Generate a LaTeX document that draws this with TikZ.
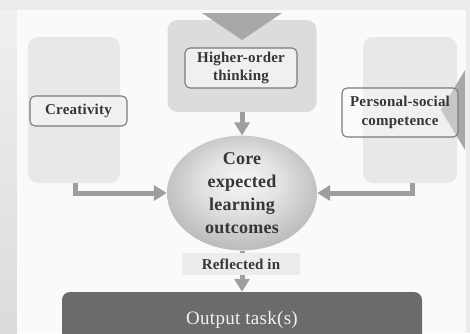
\documentclass[tikz,border=0pt]{standalone}
\usepackage{fontspec}
\setmainfont{Liberation Serif}[LetterSpace=1.5]
\usetikzlibrary{arrows.meta,shapes.geometric}

\definecolor{pagewhite}{HTML}{FAFAFA}
\definecolor{edgegray}{HTML}{ECECEC}
\definecolor{panelgray}{HTML}{E8E8E8}
\definecolor{trigray}{HTML}{A8A8A8}
\definecolor{boxline}{HTML}{7A7A7A}
\definecolor{boxfill}{HTML}{F0F0F0}
\definecolor{ink}{HTML}{363636}
\definecolor{flowgray}{HTML}{9E9E9E}
\definecolor{barfill}{HTML}{6B6B6B}
\definecolor{bartext}{HTML}{F2F2F2}
\definecolor{reflectfill}{HTML}{ECECEC}
\definecolor{coreA}{HTML}{F5F5F5}
\definecolor{coreB}{HTML}{E4E4E4}
\definecolor{coreC}{HTML}{A4A4A4}
\definecolor{coreD}{HTML}{6E6E6E}

% soft glow for the central ellipse, brightest slightly above its centre
\pgfdeclareradialshading{coreglow}{\pgfpoint{0bp}{6bp}}{%
  color(0bp)=(coreA); color(12bp)=(coreB); color(36bp)=(coreC); color(50bp)=(coreD)}

\begin{document}
\begin{tikzpicture}[x=1pt,y=-1pt,
  panel/.style={rectangle, rounded corners=10pt, fill=panelgray, draw=none, inner sep=0pt},
  labelbox/.style={rectangle, rounded corners=5pt, draw=boxline, line width=1.1pt,
    fill=boxfill, text=ink, align=center, inner sep=0pt,
    font=\bfseries\fontsize{15}{17.5}\selectfont},
  flow/.style={draw=flowgray, line width=5pt,
    -{Triangle[width=15pt,length=13pt]}},
  tri/.style={fill=trigray}]
\useasboundingbox (0,0) rectangle (470,333);
\clip (0,0) rectangle (470,333);

% backdrop
\fill[edgegray] (0,0) rectangle (470,333);
\shade[top color=gray!12, bottom color=gray!28] (0,10) rectangle (17,333);
\fill[pagewhite] (17,10) rectangle (466,333);

% pale panels
\node[panel, minimum width=92, minimum height=146] (leftpanel) at (74,110) {};
\node[panel, minimum width=149, minimum height=92, fill=panelgray!95!black] (toppanel) at (242,66) {};
\node[panel, minimum width=94, minimum height=146] (rightpanel) at (410,110) {};

% pointers
\fill[tri] (202,13) -- (282,13) -- (242,40) -- cycle;
\fill[tri] (465,70) -- (465,150) -- (441,110) -- cycle;

% labels
\node[labelbox, minimum width=97, minimum height=30] (creativity) at (78.5,111) {Creativity};
\node[labelbox, minimum width=112, minimum height=40] (higher) at (241,68) {Higher-order\\thinking};
\node[labelbox, minimum width=116, minimum height=49, fill=white, fill opacity=0.35,
  text opacity=1, draw opacity=1, font=\bfseries\fontsize{15}{19}\selectfont]
  (personal) at (400,112.5) {Personal-social\\competence};

% central outcome
\node[ellipse, minimum width=150, minimum height=108, shading=coreglow, text=ink,
  align=center, inner sep=0pt, font=\bfseries\fontsize{18}{23}\selectfont]
  (core) at (242,193) {Core\\expected\\learning\\outcomes};

% output bar
\node[rectangle, rounded corners=8pt, fill=barfill, text=bartext, minimum width=360,
  minimum height=56, inner sep=0pt, font=\fontsize{19}{21}\selectfont]
  (output) at (242,320) {Output task(s)};

% connectors
\draw[flow] (toppanel.south) -- (core.north);
\draw[flow] ([xshift=1]leftpanel.south) |- (core.west);
\draw[flow] ([xshift=2]rightpanel.south) |- (core.east);
\draw[flow] (core.south) -- (output.north);

\node[rectangle, fill=reflectfill, minimum width=118, minimum height=22, inner sep=0pt,
  text=ink, font=\bfseries\fontsize{15}{17}\selectfont] (reflected) at (241,264) {Reflected in};
\end{tikzpicture}
\end{document}
